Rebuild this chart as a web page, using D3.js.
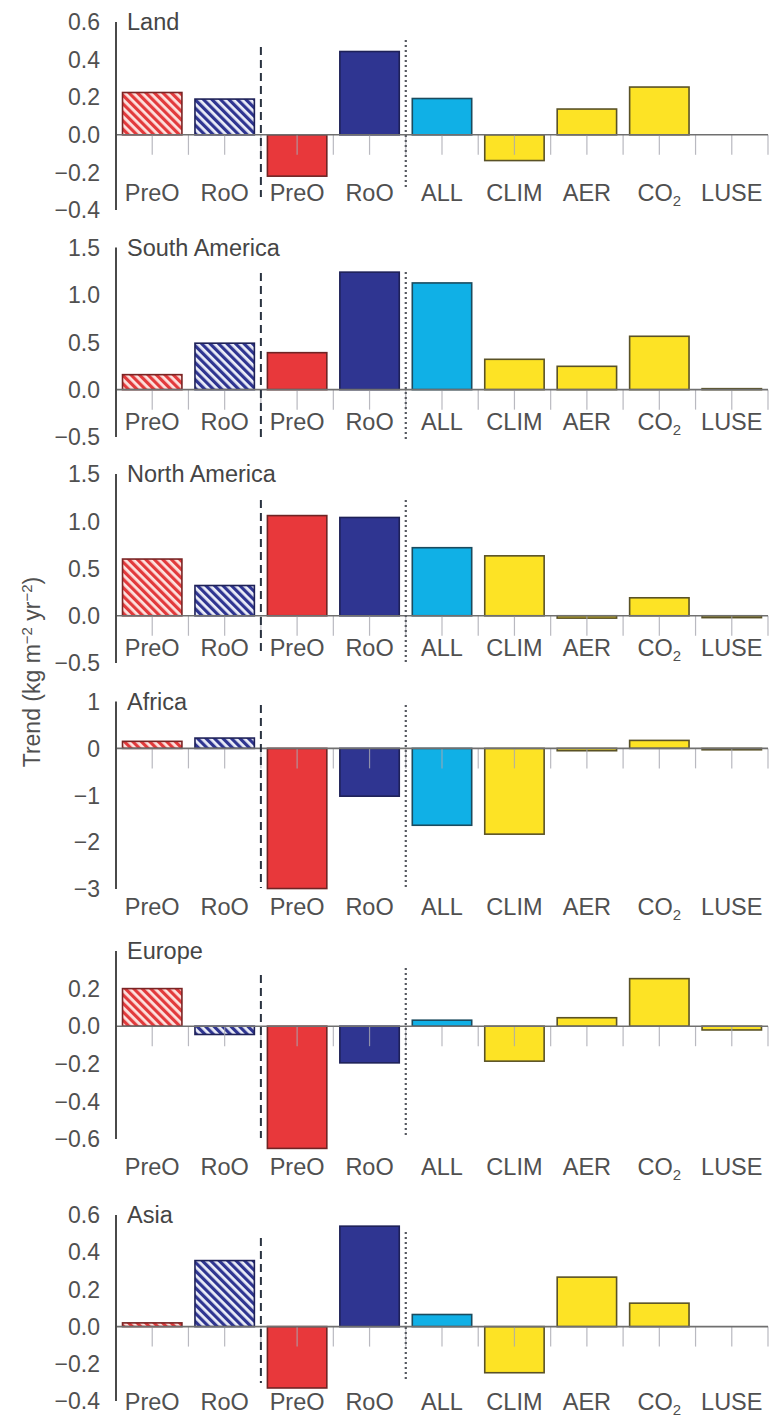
<!DOCTYPE html>
<html>
<head>
<meta charset="utf-8">
<script src="https://cdn.jsdelivr.net/npm/d3@7"></script>
<style>
  body { margin: 0; background: #fff; }
  svg { display: block; font-family: "Liberation Sans", Arial, Helvetica, sans-serif; }
  .tick-label { font-size: 23px; fill: #505050; }
  .cat-label { font-size: 23.5px; fill: #505050; }
  .panel-title { font-size: 23.5px; fill: #454545; }
  .axis-title { font-size: 23px; fill: #505050; }
</style>
</head>
<body>
<div id="chart"></div>
<script>
// categories along the x axis (same for every panel)
var categories = ["PreO", "RoO", "PreO", "RoO", "ALL", "CLIM", "AER", "CO2", "LUSE"];
var regions = ["Land", "South America", "North America", "Africa", "Europe", "Asia"];

// trend values (kg m-2 yr-2)
var landTrend         = [0.225, 0.19, -0.22, 0.443, 0.193, -0.137, 0.137, 0.254, 0.0];
var southAmericaTrend = [0.158, 0.49, 0.39, 1.24, 1.126, 0.32, 0.246, 0.563, 0.01];
var northAmericaTrend = [0.60, 0.32, 1.06, 1.04, 0.72, 0.634, -0.025, 0.19, -0.02];
var africaTrend       = [0.15, 0.22, -2.99, -1.02, -1.64, -1.83, -0.05, 0.17, -0.03];
var europeTrend       = [0.20, -0.044, -0.65, -0.195, 0.032, -0.186, 0.045, 0.253, -0.02];
var asiaTrend         = [0.02, 0.355, -0.33, 0.54, 0.065, -0.248, 0.266, 0.126, 0.0];

// y domains and tick values
var landDomain = [-0.4, 0.6],  landTicks = [0.6, 0.4, 0.2, 0.0, -0.2, -0.4];
var saDomain   = [-0.5, 1.5],  saTicks   = [1.5, 1.0, 0.5, 0.0, -0.5];
var naDomain   = [-0.5, 1.5],  naTicks   = [1.5, 1.0, 0.5, 0.0, -0.5];
var afDomain   = [-3, 1],      afTicks   = [1, 0, -1, -2, -3];
var euDomain   = [-0.6, 0.4],  euTicks   = [0.2, 0.0, -0.2, -0.4, -0.6];
var asDomain   = [-0.4, 0.6],  asTicks   = [0.6, 0.4, 0.2, 0.0, -0.2, -0.4];

// bar styles by position
var barStyle = ["hatchRed", "hatchBlue", "red", "navy", "cyan", "yellow", "yellow", "yellow", "yellow"];
var fills = { red: "#e8383b", navy: "#2f3591", cyan: "#10b0e6", yellow: "#fde325",
              hatchRed: "url(#hatchRed)", hatchBlue: "url(#hatchBlue)" };
var strokes = { red: "#6e2424", navy: "#1e2158", cyan: "#1b4b5e", yellow: "#5a5226",
                hatchRed: "#7a2424", hatchBlue: "#1e2158" };

var width = 776, height = 1418;
var left = 116, right = 768;

// panel layout in pixels
var panels = [
  { name: regions[0], values: landTrend, domain: landDomain, ticks: landTicks, fmt: ".1f",
    top: 22, bottom: 210, dash: [47, 197], dot: [40, 190], labelY: 193 },
  { name: regions[1], values: southAmericaTrend, domain: saDomain, ticks: saTicks, fmt: ".1f",
    top: 247.5, bottom: 437, dash: [273, 440], dot: [272, 440], labelY: 422 },
  { name: regions[2], values: northAmericaTrend, domain: naDomain, ticks: naTicks, fmt: ".1f",
    top: 474, bottom: 663, dash: [500, 655], dot: [500, 665], labelY: 648 },
  { name: regions[3], values: africaTrend, domain: afDomain, ticks: afTicks, fmt: "d",
    top: 701.5, bottom: 889, dash: [705, 888], dot: [705, 888], labelY: 907 },
  { name: regions[4], values: europeTrend, domain: euDomain, ticks: euTicks, fmt: ".1f",
    top: 951, bottom: 1139, dash: [975, 1138], dot: [968, 1138], labelY: 1167 },
  { name: regions[5], values: asiaTrend, domain: asDomain, ticks: asTicks, fmt: ".1f",
    top: 1215, bottom: 1401, dash: [1238, 1383], dot: [1232, 1382], labelY: 1402 }
];

var svg = d3.select("#chart").append("svg")
  .attr("width", width)
  .attr("height", height);

// hatch patterns
var defs = svg.append("defs");
function hatch(id, bg, fg) {
  var p = defs.append("pattern")
    .attr("id", id)
    .attr("patternUnits", "userSpaceOnUse")
    .attr("width", 6).attr("height", 6)
    .attr("patternTransform", "rotate(-45)");
  p.append("rect").attr("width", 6).attr("height", 6).attr("fill", bg);
  p.append("rect").attr("width", 3.2).attr("height", 6).attr("fill", fg);
}
hatch("hatchRed", "#fde3e0", "#e23a3c");
hatch("hatchBlue", "#eceef8", "#2f3591");

var x = d3.scaleBand()
  .domain(d3.range(categories.length))
  .range([left, right])
  .paddingInner(0.18)
  .paddingOuter(0.09);

var step = x.step();

panels.forEach(function(p) {
  var y = d3.scaleLinear().domain(p.domain).range([p.bottom, p.top]);
  var g = svg.append("g");
  var fmt = d3.format(p.fmt);

  // bars
  g.selectAll("rect.bar")
    .data(p.values)
    .enter().append("rect")
    .attr("class", "bar")
    .attr("x", function(d, i) { return x(i); })
    .attr("width", x.bandwidth())
    .attr("y", function(d) { return y(Math.max(0, d)); })
    .attr("height", function(d) { return Math.abs(y(d) - y(0)); })
    .attr("fill", function(d, i) { return fills[barStyle[i]]; })
    .attr("stroke", function(d, i) { return strokes[barStyle[i]]; })
    .attr("stroke-width", 1.6);

  // small ticks below the zero line at centres and between bars
  var tickXs = d3.range(1, categories.length * 2 + 1).map(function(k) { return left + k * step / 2; });
  g.selectAll("line.xtick")
    .data(tickXs)
    .enter().append("line")
    .attr("x1", function(d) { return d; })
    .attr("x2", function(d) { return d; })
    .attr("y1", y(0))
    .attr("y2", y(0) + 20)
    .attr("stroke", "#a8a8b0")
    .attr("stroke-opacity", 0.8)
    .attr("stroke-width", 1.2);

  // zero line
  g.append("line")
    .attr("x1", left).attr("x2", right)
    .attr("y1", y(0)).attr("y2", y(0))
    .attr("stroke", "#707070")
    .attr("stroke-width", 1.6);

  // y axis line
  g.append("line")
    .attr("x1", left).attr("x2", left)
    .attr("y1", p.top).attr("y2", p.bottom)
    .attr("stroke", "#4a4a4a")
    .attr("stroke-width", 2);

  // tick labels
  g.selectAll("text.tick-label")
    .data(p.ticks)
    .enter().append("text")
    .attr("class", "tick-label")
    .attr("x", 100)
    .attr("y", function(d) { return y(d); })
    .attr("dy", "0.36em")
    .attr("text-anchor", "end")
    .text(function(d) { return fmt(d); });

  // separators: dashed between observation groups, dotted before model runs
  g.append("line")
    .attr("x1", left + 2 * step).attr("x2", left + 2 * step)
    .attr("y1", p.dash[0]).attr("y2", p.dash[1])
    .attr("stroke", "#2a3340")
    .attr("stroke-width", 2)
    .attr("stroke-dasharray", "8,5");

  g.append("line")
    .attr("x1", left + 4 * step).attr("x2", left + 4 * step)
    .attr("y1", p.dot[0]).attr("y2", p.dot[1])
    .attr("stroke", "#55585f")
    .attr("stroke-width", 2.2)
    .attr("stroke-dasharray", "2,3");

  // panel title
  g.append("text")
    .attr("class", "panel-title")
    .attr("x", 127)
    .attr("y", p.top)
    .attr("dy", "0.36em")
    .text(p.name);

  // category labels
  categories.forEach(function(c, i) {
    var t = g.append("text")
      .attr("class", "cat-label")
      .attr("x", x(i) + x.bandwidth() / 2)
      .attr("y", p.labelY)
      .attr("dy", "0.36em")
      .attr("text-anchor", "middle");
    if (c === "CO2") {
      t.append("tspan").text("CO");
      t.append("tspan").attr("dy", 5).attr("font-size", "15px").text("2");
    } else {
      t.text(c);
    }
  });
});

// y axis title
var yt = svg.append("text")
  .attr("class", "axis-title")
  .attr("transform", "translate(40,672) rotate(-90)")
  .attr("text-anchor", "middle");
yt.append("tspan").text("Trend (kg m");
yt.append("tspan").attr("dy", -8).attr("font-size", "15px").text("\u22122");
yt.append("tspan").attr("dy", 8).text(" yr");
yt.append("tspan").attr("dy", -8).attr("font-size", "15px").text("\u22122");
yt.append("tspan").attr("dy", 8).text(")");
</script>
</body>
</html>
